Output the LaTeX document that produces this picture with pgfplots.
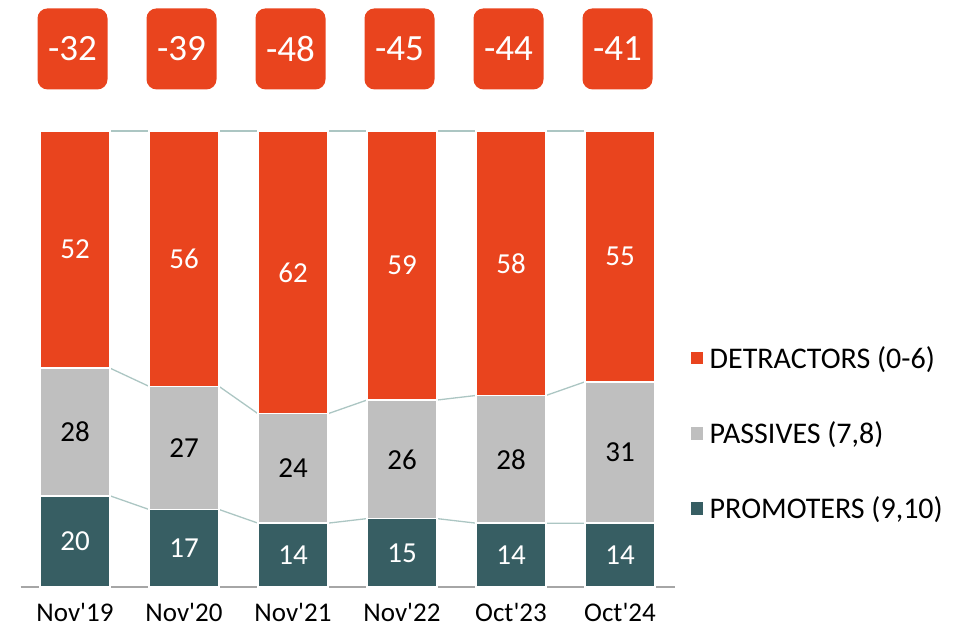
\documentclass[border=0pt]{standalone}
\usepackage{pgfplots}
\pgfplotsset{compat=1.18}
\usepackage{fontspec}
\setmainfont{Carlito}
\definecolor{det}{RGB}{233,68,30}
\definecolor{pas}{RGB}{191,191,191}
\definecolor{pro}{RGB}{55,94,99}
\definecolor{conn}{RGB}{172,198,195}
\definecolor{axgray}{RGB}{166,166,166}
\newcommand{\q}{\textquotesingle}
\begin{document}
\begin{tikzpicture}
\path[use as bounding box] (-20.5bp,-40bp) rectangle (940.5bp,587bp);
% connector lines
\begin{axis}[at={(0,0)}, anchor=south west, scale only axis, width=654bp, height=456bp,
  xmin=-0.5, xmax=5.5, ymin=0, ymax=100, hide axis, clip=false, unbounded coords=jump]
\addplot[conn, line width=1.3bp, mark=none] coordinates {
 (0.321,20) (0.679,17) (1,nan) (1.321,17) (1.679,14) (2,nan) (2.321,14) (2.679,15) (3,nan)
 (3.321,15) (3.679,14) (4,nan) (4.321,14) (4.679,14)};
\addplot[conn, line width=1.3bp, mark=none] coordinates {
 (0.321,48) (0.679,44) (1,nan) (1.321,44) (1.679,38) (2,nan) (2.321,38) (2.679,41) (3,nan)
 (3.321,41) (3.679,42) (4,nan) (4.321,42) (4.679,45)};
\addplot[conn, line width=1.3bp, mark=none] coordinates {
 (0.321,100) (0.679,100) (1,nan) (1.321,100) (1.679,100) (2,nan) (2.321,100) (2.679,100) (3,nan)
 (3.321,100) (3.679,100) (4,nan) (4.321,100) (4.679,100)};
\end{axis}
\begin{axis}[at={(0,0)}, anchor=south west, scale only axis, width=654bp, height=456bp,
  xmin=-0.5, xmax=5.5, ymin=0, ymax=100, clip=false,
  ybar stacked, bar width=70bp,
  axis y line=none, axis x line*=bottom,
  x axis line style={draw=axgray, line width=1.5bp, -},
  xtick={0,1,2,3,4,5}, xticklabels={Nov\q19,Nov\q20,Nov\q21,Nov\q22,Oct\q23,Oct\q24},
  major tick length=0pt,
  xticklabel style={font=\fontsize{27bp}{32bp}\selectfont, text=black, yshift=-13bp},
  legend image code/.code={\fill[#1] (0bp,-7bp) rectangle (14bp,7bp);},
  reverse legend, legend cell align=left,
  legend style={draw=none, fill=none, at={(1.0222,0.533)}, anchor=north west,
    font=\fontsize{30bp}{36bp}\selectfont, row sep=48bp, inner sep=0pt,
    /tikz/every odd column/.append style={column sep=3bp}},
  every axis plot/.append style={draw=white, line width=1.5bp}]
\addplot[fill=pro] coordinates {(0,20) (1,17) (2,14) (3,15) (4,14) (5,14)};
\addlegendentry{PROMOTERS (9,10)}
\addplot[fill=pas] coordinates {(0,28) (1,27) (2,24) (3,26) (4,28) (5,31)};
\addlegendentry{PASSIVES (7,8)}
\addplot[fill=det] coordinates {(0,52) (1,56) (2,62) (3,59) (4,58) (5,55)};
\addlegendentry{DETRACTORS (0-6)}
\end{axis}
\begin{axis}[at={(0,0)}, anchor=south west, scale only axis, width=654bp, height=456bp,
  xmin=-0.5, xmax=5.5, ymin=0, ymax=100, hide axis, clip=false,
  nodes near coords, point meta=explicit symbolic]
\addplot[draw=none, mark=none, nodes near coords style={anchor=center, text=white, font=\fontsize{29bp}{34bp}\selectfont}]
 coordinates {(0,10)[20] (1,8.5)[17] (2,7)[14] (3,7.5)[15] (4,7)[14] (5,7)[14]};
\addplot[draw=none, mark=none, nodes near coords style={anchor=center, text=black, font=\fontsize{29bp}{34bp}\selectfont}]
 coordinates {(0,34)[28] (1,30.5)[27] (2,26)[24] (3,28)[26] (4,28)[28] (5,29.5)[31]};
\addplot[draw=none, mark=none, nodes near coords style={anchor=center, text=white, font=\fontsize{29bp}{34bp}\selectfont}]
 coordinates {(0,74)[52] (1,72)[56] (2,69)[62] (3,70.5)[59] (4,71)[58] (5,72.5)[55]};
\addplot[draw=none, mark=none, nodes near coords style={anchor=center, text=white, fill=det,
   rounded corners=10bp, minimum width=70bp, minimum height=81bp, inner sep=0pt, xshift=-2.5bp,
   font=\fontsize{37bp}{42bp}\selectfont}]
 coordinates {(0,118)[-32] (1,118)[-39] (2,118)[-48] (3,118)[-45] (4,118)[-44] (5,118)[-41]};
\end{axis}
\end{tikzpicture}
\end{document}
